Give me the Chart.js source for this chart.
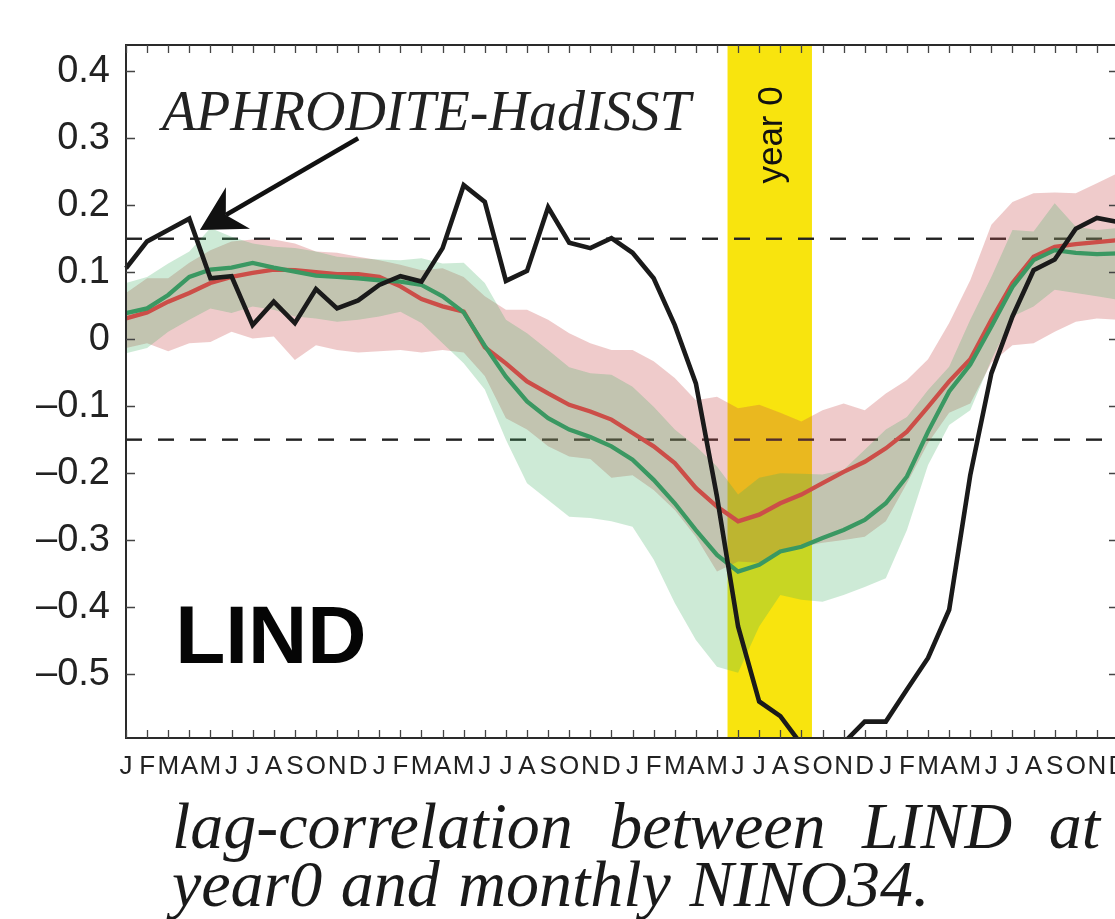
<!DOCTYPE html>
<html><head><meta charset="utf-8">
<script src="https://cdn.jsdelivr.net/npm/chart.js@4"></script>
<style>
html,body{margin:0;padding:0;background:#fff;overflow:hidden;width:1115px;height:919px;}
#wrap{position:absolute;left:0;top:0;width:1140px;height:780px;}
.cap{position:absolute;left:172px;font-family:"Liberation Serif","Times New Roman",serif;font-style:italic;font-size:66px;line-height:66px;color:#1a1a1a;white-space:nowrap;}
#cap1{top:793px;width:928px;text-align:justify;text-align-last:justify;}
#cap2{top:851px;word-spacing:2px;}
</style></head>
<body>
<div id="wrap"><canvas id="c"></canvas></div>
<div class="cap" id="cap1">lag-correlation between LIND at</div>
<div class="cap" id="cap2">year0 and monthly NINO34.</div>
<script>
// ---- data ----
const MONTHS = ['J','F','M','A','M','J','J','A','S','O','N','D'];
const xLabels = [].concat(MONTHS, MONTHS, MONTHS, MONTHS);
const yTickValues = [-0.5,-0.4,-0.3,-0.2,-0.1,0,0.1,0.2,0.3,0.4];
const yRange = [-0.5955, 0.4393];
const thresholds = [0.15, -0.15];
const year0Band = [28.5, 32.5];

const obs = [0.106,0.146,0.163,0.180,0.091,0.094,0.021,0.056,0.024,0.075,0.046,0.058,
             0.081,0.094,0.086,0.136,0.230,0.205,0.087,0.102,0.197,0.144,0.136,0.151,
             0.129,0.091,0.021,-0.066,-0.235,-0.429,-0.541,-0.563,-0.605,-0.650,-0.603,-0.571,
             -0.571,-0.523,-0.476,-0.404,-0.203,-0.051,0.034,0.103,0.119,0.165,0.181,0.175];
const redMean = [0.031,0.040,0.056,0.069,0.084,0.093,0.099,0.104,0.103,0.100,0.097,0.097,
                 0.093,0.079,0.060,0.049,0.041,-0.012,-0.036,-0.063,-0.081,-0.098,-0.108,-0.120,
                 -0.140,-0.160,-0.185,-0.222,-0.250,-0.272,-0.262,-0.245,-0.232,-0.215,-0.198,-0.183,
                 -0.163,-0.138,-0.101,-0.063,-0.030,0.029,0.084,0.123,0.138,0.142,0.145,0.148];
const redUpper = [0.069,0.091,0.091,0.114,0.133,0.146,0.149,0.149,0.143,0.131,0.129,0.123,
                  0.118,0.111,0.103,0.106,0.093,0.064,0.044,0.044,0.029,0.009,-0.006,-0.016,
                  -0.016,-0.033,-0.058,-0.091,-0.086,-0.103,-0.098,-0.110,-0.123,-0.106,-0.096,-0.106,
                  -0.081,-0.061,-0.030,0.024,0.088,0.171,0.205,0.218,0.219,0.218,0.233,0.248];
const redLower = [-0.013,-0.006,-0.018,-0.006,-0.004,0.011,0.001,0.004,-0.031,-0.009,-0.016,-0.020,
                  -0.018,-0.016,-0.020,-0.016,-0.020,-0.055,-0.118,-0.135,-0.160,-0.175,-0.179,-0.207,
                  -0.203,-0.225,-0.255,-0.295,-0.347,-0.332,-0.334,-0.314,-0.310,-0.304,-0.300,-0.295,
                  -0.272,-0.215,-0.155,-0.110,-0.096,-0.035,-0.009,-0.006,0.011,0.026,0.031,0.029];
const greenMean = [0.039,0.046,0.066,0.093,0.104,0.107,0.114,0.107,0.101,0.095,0.093,0.091,
                   0.088,0.086,0.081,0.064,0.040,-0.010,-0.056,-0.093,-0.118,-0.135,-0.146,-0.160,
                   -0.180,-0.210,-0.245,-0.285,-0.322,-0.347,-0.337,-0.317,-0.310,-0.297,-0.285,-0.270,
                   -0.245,-0.205,-0.138,-0.078,-0.038,0.019,0.078,0.118,0.133,0.129,0.127,0.128];
const greenUpper = [0.084,0.093,0.113,0.131,0.166,0.153,0.143,0.138,0.136,0.131,0.123,0.121,
                    0.119,0.118,0.121,0.113,0.114,0.084,0.029,0.009,-0.016,-0.042,-0.051,-0.053,
                    -0.071,-0.101,-0.135,-0.160,-0.190,-0.232,-0.207,-0.200,-0.201,-0.202,-0.195,-0.165,
                    -0.135,-0.116,-0.076,-0.041,0.029,0.093,0.163,0.161,0.203,0.168,0.163,0.166];
const greenLower = [-0.021,-0.013,0.011,0.029,0.046,0.039,0.049,0.044,0.034,0.031,0.026,0.029,
                    0.034,0.041,0.024,-0.006,-0.036,-0.075,-0.150,-0.215,-0.240,-0.265,-0.267,-0.272,
                    -0.280,-0.329,-0.394,-0.449,-0.489,-0.498,-0.429,-0.382,-0.389,-0.392,-0.382,-0.370,
                    -0.357,-0.285,-0.188,-0.128,-0.106,-0.031,0.034,0.049,0.074,0.069,0.064,0.059];

// annotation anchors in data coordinates (x = month index, y = correlation)
const obsLabel = {text:'APHRODITE-HadISST', x:1.70, y:0.312};
const obsArrow = {from:[11.0, 0.300], to:[3.5, 0.163]};
const regionLabel = {text:'LIND', x:2.33, y:-0.483};
const bandLabel = {text:'year 0', y:0.305};

const overlay = {
  id:'overlay',
  beforeDraw(chart){
    const {ctx, chartArea:a, scales:{x}} = chart;
    ctx.save();
    ctx.fillStyle = 'rgb(248,228,14)';
    const x0 = x.getPixelForValue(year0Band[0]), x1 = x.getPixelForValue(year0Band[1]);
    ctx.fillRect(x0, a.top, x1-x0, a.bottom-a.top);
    ctx.restore();
  },
  beforeDatasetsDraw(chart){
    const {ctx, chartArea:a, scales:{y}} = chart;
    ctx.save();
    ctx.beginPath(); ctx.rect(a.left, a.top, a.right-a.left, a.bottom-a.top); ctx.clip();
    ctx.strokeStyle = '#222'; ctx.lineWidth = 2.4; ctx.setLineDash([16,16]);
    thresholds.forEach(t=>{
      const py = y.getPixelForValue(t);
      ctx.beginPath(); ctx.moveTo(a.left, py); ctx.lineTo(a.right, py); ctx.stroke();
    });
    ctx.restore();
  },
  afterDatasetsDraw(chart){
    const {ctx, chartArea:a, scales:{x,y}} = chart;
    ctx.save();
    // frame
    ctx.strokeStyle = '#2a2a2a'; ctx.lineWidth = 2;
    ctx.strokeRect(a.left, a.top, a.right-a.left, a.bottom-a.top);
    // inward ticks
    ctx.strokeStyle = '#444'; ctx.lineWidth = 1.3;
    ctx.beginPath();
    for (let i=0;i<xLabels.length;i++){
      const px = Math.round(x.getPixelForValue(i))+0.5;
      ctx.moveTo(px, a.bottom); ctx.lineTo(px, a.bottom-8);
      ctx.moveTo(px, a.top); ctx.lineTo(px, a.top+8);
    }
    yTickValues.forEach(v=>{
      const py = Math.round(y.getPixelForValue(v))+0.5;
      ctx.moveTo(a.left, py); ctx.lineTo(a.left+9, py);
      ctx.moveTo(a.right, py); ctx.lineTo(a.right-9, py);
    });
    ctx.stroke();

    // year 0 label
    const bx = (x.getPixelForValue(year0Band[0]) + x.getPixelForValue(year0Band[1]))/2;
    ctx.save();
    ctx.translate(bx + 12, y.getPixelForValue(bandLabel.y));
    ctx.rotate(-Math.PI/2);
    ctx.font = '35px "Liberation Sans", Arial, sans-serif';
    ctx.fillStyle = '#111'; ctx.textAlign = 'center'; ctx.textBaseline = 'alphabetic';
    ctx.fillText(bandLabel.text, 0, 0);
    ctx.restore();

    // APHRODITE label
    ctx.font = 'italic 56px "Liberation Serif", "Times New Roman", serif';
    ctx.fillStyle = '#222'; ctx.textAlign = 'left'; ctx.textBaseline = 'alphabetic';
    ctx.fillText(obsLabel.text, x.getPixelForValue(obsLabel.x), y.getPixelForValue(obsLabel.y));

    // arrow
    const tx = x.getPixelForValue(obsArrow.to[0]), ty = y.getPixelForValue(obsArrow.to[1]);
    const fx = x.getPixelForValue(obsArrow.from[0]), fy = y.getPixelForValue(obsArrow.from[1]);
    const L = Math.hypot(tx-fx, ty-fy), ux = (tx-fx)/L, uy = (ty-fy)/L, nx = -uy, ny = ux;
    const hl = 44, hw = 24, notch = 30;
    ctx.strokeStyle = '#111'; ctx.lineWidth = 4.5; ctx.lineCap = 'butt';
    ctx.beginPath(); ctx.moveTo(fx, fy); ctx.lineTo(tx - ux*notch, ty - uy*notch); ctx.stroke();
    ctx.fillStyle = '#111';
    ctx.beginPath();
    ctx.moveTo(tx, ty);
    ctx.lineTo(tx - ux*hl + nx*hw, ty - uy*hl + ny*hw);
    ctx.lineTo(tx - ux*notch, ty - uy*notch);
    ctx.lineTo(tx - ux*hl - nx*hw, ty - uy*hl - ny*hw);
    ctx.closePath(); ctx.fill();

    // LIND label
    ctx.font = 'bold 82px "Liberation Sans", Arial, sans-serif';
    ctx.fillStyle = '#050505';
    ctx.fillText(regionLabel.text, x.getPixelForValue(regionLabel.x), y.getPixelForValue(regionLabel.y));
    ctx.restore();
  }
};

const base = {pointRadius:0, pointHoverRadius:0, tension:0, fill:false};
new Chart(document.getElementById('c'), {
  type:'line',
  data:{
    labels:xLabels,
    datasets:[
      {...base, label:'APHRODITE-HadISST', data:obs, borderColor:'#1a1a1a', borderWidth:4.6, order:0},
      {...base, label:'green mean', data:greenMean, borderColor:'rgb(58,152,98)', borderWidth:4.3, order:1},
      {...base, label:'red mean', data:redMean, borderColor:'rgb(204,78,72)', borderWidth:4.3, order:2},
      {...base, label:'green upper', data:greenUpper, borderWidth:0, borderColor:'rgba(0,0,0,0)',
        backgroundColor:'rgba(60,175,95,0.26)', fill:4, order:3},
      {...base, label:'green lower', data:greenLower, borderWidth:0, borderColor:'rgba(0,0,0,0)', order:4},
      {...base, label:'red upper', data:redUpper, borderWidth:0, borderColor:'rgba(0,0,0,0)',
        backgroundColor:'rgba(200,75,75,0.29)', fill:6, order:5},
      {...base, label:'red lower', data:redLower, borderWidth:0, borderColor:'rgba(0,0,0,0)', order:6}
    ]
  },
  options:{
    responsive:true, maintainAspectRatio:false, animation:false,
    layout:{padding:{left:0, top:45, right:22, bottom:0}},
    plugins:{legend:{display:false}, tooltip:{enabled:false}},
    scales:{
      x:{type:'category', offset:false,
         grid:{display:false}, border:{display:false},
         ticks:{autoSkip:false, maxRotation:0, minRotation:0, padding:5, color:'#222',
                font:{family:'"Liberation Sans", Arial, sans-serif', size:26}},
         afterFit(s){ s.height = 42; }},
      y:{type:'linear', min:yRange[0], max:yRange[1],
         grid:{display:false}, border:{display:false},
         afterBuildTicks(s){ s.ticks = yTickValues.map(v=>({value:v})); },
         ticks:{padding:8, color:'#222',
                font:{family:'"Liberation Sans", Arial, sans-serif', size:38},
                callback(v){ const r = Math.round(v*10)/10; return r===0 ? '0' : (r<0 ? '\u2013'+Math.abs(r).toFixed(1) : r.toFixed(1)); }},
         afterFit(s){ s.width = 126; }}
    }
  },
  plugins:[overlay]
});
</script>
</body></html>
